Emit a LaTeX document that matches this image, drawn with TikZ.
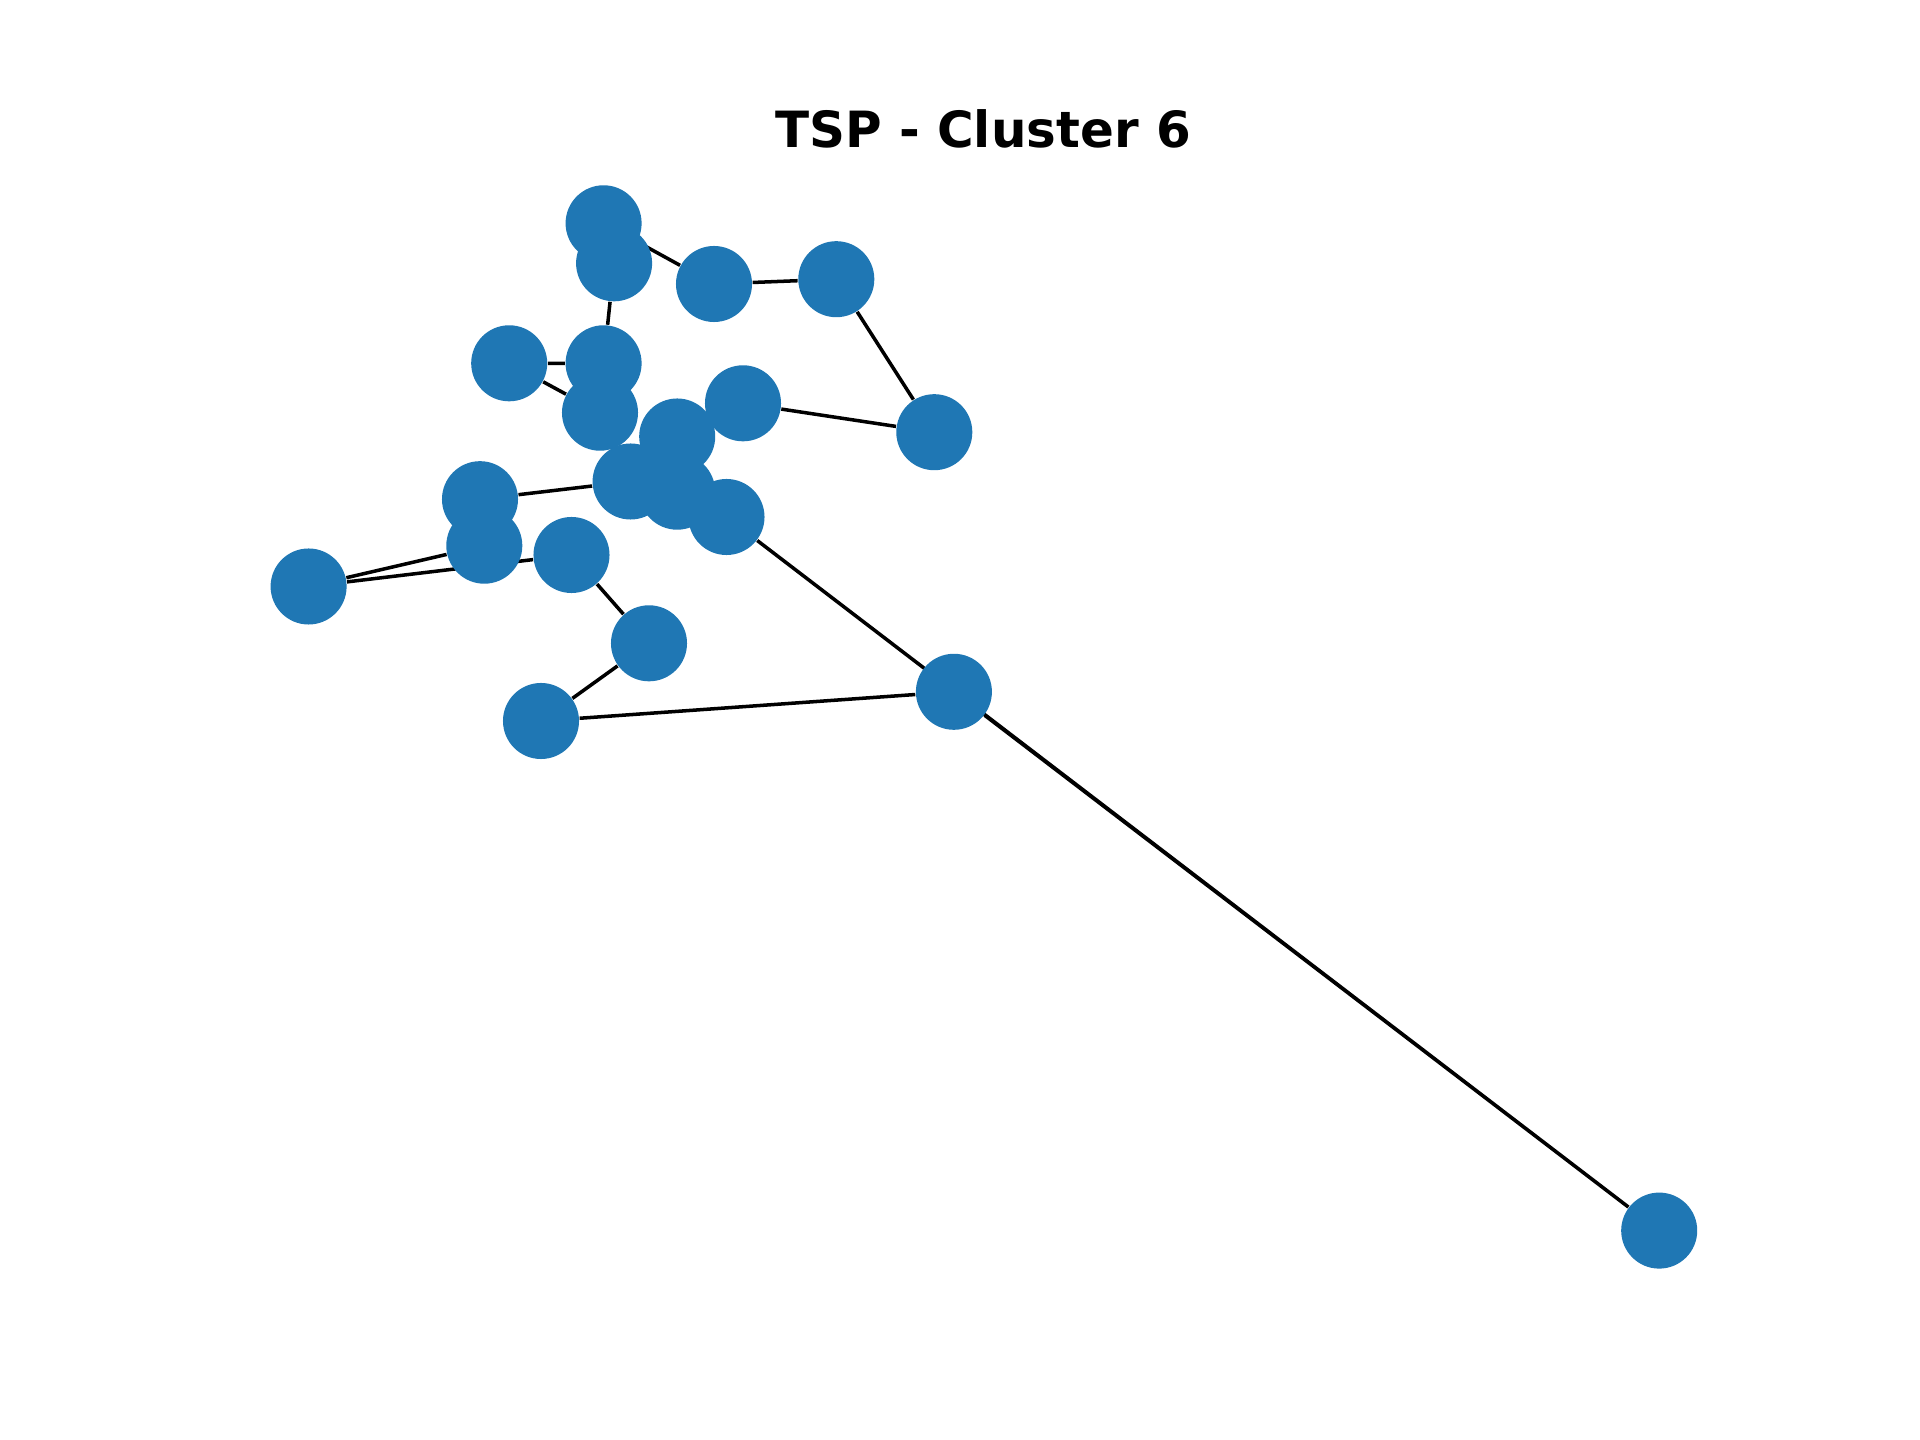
\documentclass[tikz,border=0pt]{standalone}
\usepackage{fontspec}
\setmainfont{DejaVu Sans}
\usetikzlibrary{backgrounds}
\definecolor{tabblue}{HTML}{1F77B4}
\tikzset{
  city/.style={circle, fill=tabblue, inner sep=0pt, minimum size=0.76cm},
  tour/.style={black, line width=1pt}
}
\begin{document}
\begin{tikzpicture}[x=0.01cm,y=-0.01cm]
  \useasboundingbox (0,0) rectangle (1920,1440);

  % Title
  \node[font=\bfseries\fontsize{14.2}{17}\selectfont, anchor=base] (title) at (983,148) {TSP - Cluster 6};

  % Cities
  \node[city] (A) at (603.6,223.3) {};
  \node[city] (B) at (614.1,263.3) {};
  \node[city] (C) at (714.0,284.0) {};
  \node[city] (D) at (509.2,363.3) {};
  \node[city] (E) at (603.6,363.3) {};
  \node[city] (F) at (600.0,412.7) {};
  \node[city] (G) at (743.0,403.3) {};
  \node[city] (H) at (677.2,436.5) {};
  \node[city] (I) at (480.0,499.2) {};
  \node[city] (J) at (630.6,481.5) {};
  \node[city] (K) at (677.2,491.7) {};
  \node[city] (L) at (726.5,517.0) {};
  \node[city] (M) at (484.3,545.7) {};
  \node[city] (N) at (571.5,555.0) {};
  \node[city] (P) at (308.6,586.5) {};
  \node[city] (Q) at (649.0,643.3) {};
  \node[city] (R) at (541.0,721.0) {};
  \node[city] (S) at (836.3,279.2) {};
  \node[city] (T) at (934.3,432.2) {};
  \node[city] (U) at (953.9,691.8) {};
  \node[city] (V) at (1659.2,1230.6) {};

  % Tour
  \begin{scope}[on background layer]
    \draw[tour] (V) -- (U) -- (R) -- (Q) -- (N) -- (P) -- (M) -- (I) -- (J) -- (F)
      -- (D) -- (E) -- (B) -- (A) -- (C) -- (S) -- (T) -- (G) -- (H) -- (K) -- (L) -- (V);
  \end{scope}
\end{tikzpicture}
\end{document}
